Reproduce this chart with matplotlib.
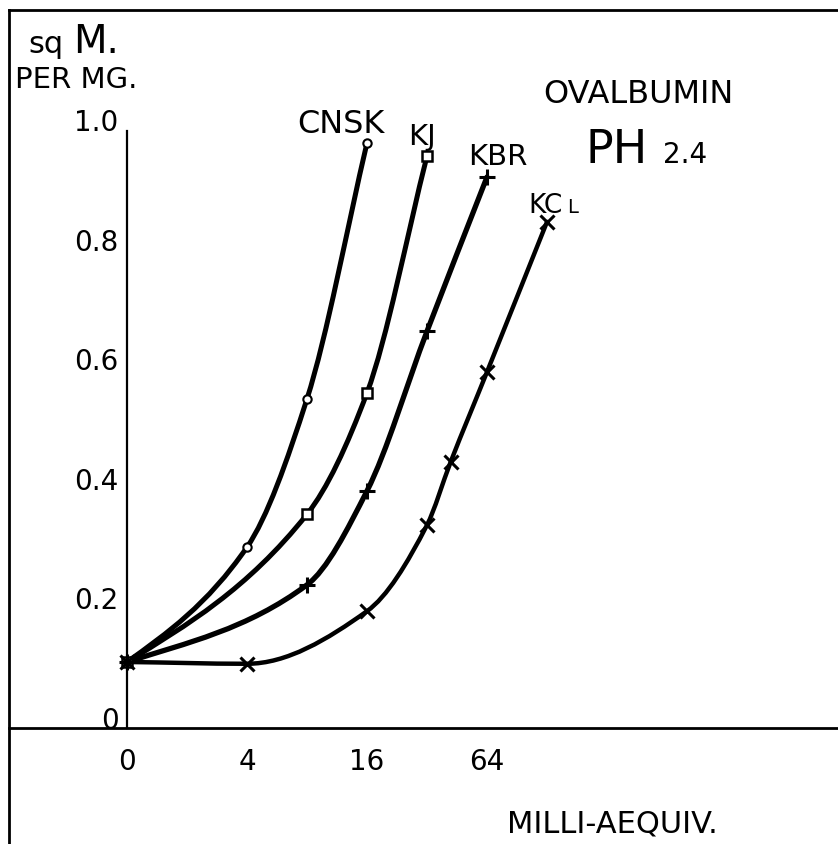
import numpy as np
import matplotlib.pyplot as plt
from matplotlib.path import Path
from matplotlib.patches import PathPatch
from matplotlib.lines import Line2D

# surface (sq M. per mg) of ovalbumin at pH 2.4 against salt added (milli-equiv.)
cnsk_conc = [0, 4, 8, 16]
cnsk_area = [0.092, 0.284, 0.532, 0.960]
kj_conc = [0, 8, 16, 32]
kj_area = [0.092, 0.339, 0.542, 0.938]
kbr_conc = [0, 8, 16, 32, 64]
kbr_area = [0.092, 0.221, 0.378, 0.645, 0.903]
kcl_conc = [0, 4, 16, 32, 42, 64, 128]
kcl_area = [0.092, 0.089, 0.177, 0.321, 0.426, 0.577, 0.828]

x_ticks = [0, 4, 16, 64]
x_labels = ['0', '4', '16', '64']
y_ticks = [0, 0.2, 0.4, 0.6, 0.8, 1.0]
y_labels = ['0', '0.2', '0.4', '0.6', '0.8', '1.0']

W, H = 838, 845
plt.rcParams['font.family'] = 'DejaVu Sans'


def xpos(c):
    # x axis runs in steps of a factor 4, with 0 drawn at the origin
    c = np.asarray(c, float)
    return np.where(c > 0, np.log(np.maximum(c, 1)) / np.log(4), 0.0)


def smooth_path(x, y):
    # monotone cubic (Fritsch-Carlson slopes) through the points,
    # written as bezier segments
    x = np.asarray(x, float)
    y = np.asarray(y, float)
    h = np.diff(x)
    d = np.diff(y) / h
    m = np.zeros_like(y)
    m[0], m[-1] = 0.75 * d[0], d[-1]
    for i in range(1, len(y) - 1):
        if d[i - 1] * d[i] > 0:
            w1 = 2 * h[i] + h[i - 1]
            w2 = h[i] + 2 * h[i - 1]
            m[i] = (w1 + w2) / (w1 / d[i - 1] + w2 / d[i])
    verts = [(x[0], y[0])]
    codes = [Path.MOVETO]
    for i in range(len(h)):
        verts += [(x[i] + h[i] / 3, y[i] + m[i] * h[i] / 3),
                  (x[i + 1] - h[i] / 3, y[i + 1] - m[i + 1] * h[i] / 3),
                  (x[i + 1], y[i + 1])]
        codes += [Path.CURVE4] * 3
    return Path(verts, codes)


def px(x, y):
    return x / W, 1 - y / H


fig = plt.figure(figsize=(W / 100, H / 100), dpi=100)
ax = fig.add_axes([0, 0, 1, 1])
ax.set_xlim(-127 / 120, (W - 127) / 120)
ax.set_ylim((718 - H) / 598, 718 / 598)

series = [
    (cnsk_conc, cnsk_area, dict(marker='o', ms=6, mfc='white', mec='k', mew=1.5), 3.6),
    (kj_conc, kj_area, dict(marker='s', ms=7, mfc='white', mec='k', mew=1.8), 3.6),
    (kbr_conc, kbr_area, dict(marker='+', ms=12, mec='k', mew=2.2), 3.8),
    (kcl_conc, kcl_area, dict(marker='x', ms=10, mec='k', mew=2.2), 3.2),
]
for conc, area, mk, lw in series:
    xs = xpos(conc)
    ax.add_patch(PathPatch(smooth_path(xs, area), fill=False, lw=lw,
                           ec='k', capstyle='round', joinstyle='round'))
for conc, area, mk, lw in series:
    ax.plot(xpos(conc), area, ls='none', zorder=4, **mk)

# axes drawn like the hand-made plot
y_axis = (718 - 729) / 598
for s in ['top', 'right']:
    ax.spines[s].set_visible(False)
ax.spines['left'].set_position(('data', 0))
ax.spines['left'].set_bounds(y_axis, (718 - 132) / 598)
ax.spines['left'].set_linewidth(1.6)
ax.spines['bottom'].set_position(('data', y_axis))
ax.spines['bottom'].set_bounds((9 - 127) / 120, (W - 127) / 120)
ax.spines['bottom'].set_linewidth(2.0)

ax.set_xticks(xpos(x_ticks), x_labels)
ax.set_yticks(y_ticks, y_labels)
ax.tick_params(axis='x', length=0, pad=14, labelsize=20)
ax.tick_params(axis='y', length=0, pad=6, labelsize=20)
ax.patch.set_visible(False)

# outer frame of the drawing
fig.add_artist(Line2D([9 / W, 9 / W], [0, 1 - 11 / H], transform=fig.transFigure,
                      color='k', lw=2))
fig.add_artist(Line2D([9 / W, 1], [1 - 11 / H, 1 - 11 / H], transform=fig.transFigure,
                      color='k', lw=2))

# lettering
fig.text(*px(28, 53), 'sq', fontsize=22, va='baseline')
fig.text(*px(73, 53), 'M.', fontsize=28, va='baseline')
fig.text(*px(15, 88), 'PER MG.', fontsize=21, va='baseline')
fig.text(*px(297, 133), 'CNSK', fontsize=23, va='baseline')
fig.text(*px(408, 145), 'KJ', fontsize=21, va='baseline')
fig.text(*px(468, 165), 'KBR', fontsize=21, va='baseline')
fig.text(*px(528, 213), 'KC', fontsize=19, va='baseline')
fig.text(*px(567, 213), 'L', fontsize=14, va='baseline')
fig.text(*px(543, 103), 'OVALBUMIN', fontsize=23, va='baseline')
fig.text(*px(585, 163), 'PH', fontsize=33, va='baseline')
fig.text(*px(663, 163), '2.4', fontsize=20, va='baseline')
fig.text(*px(507, 833), 'MILLI-AEQUIV.', fontsize=22, va='baseline')

fig.savefig('out.png', dpi=100)
